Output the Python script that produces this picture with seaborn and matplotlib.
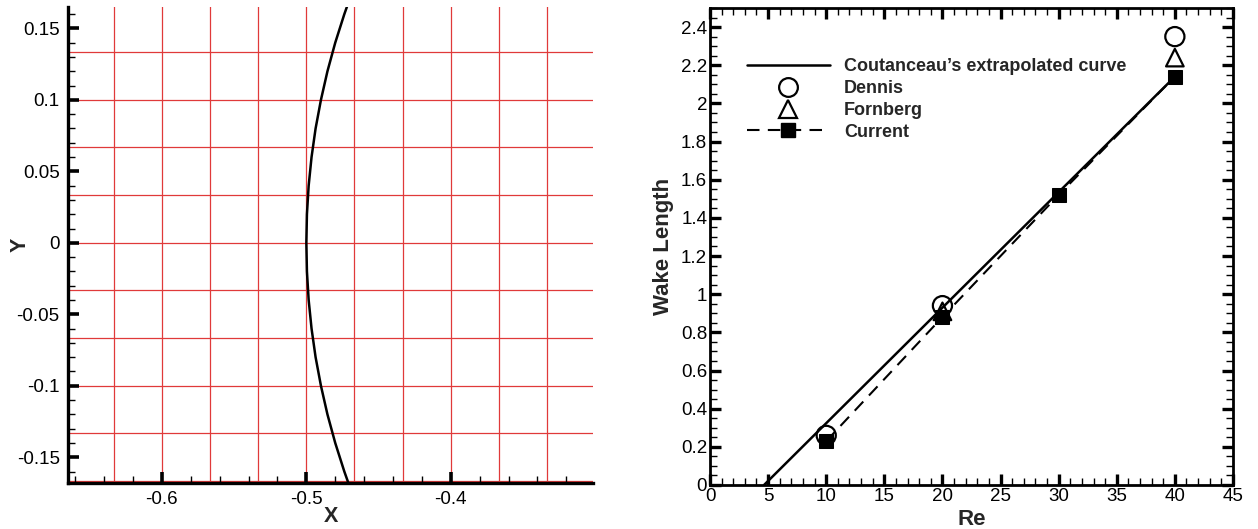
import matplotlib
matplotlib.use("Agg")
import matplotlib.pyplot as plt
from matplotlib.lines import Line2D
from matplotlib.ticker import MultipleLocator, FuncFormatter
import seaborn as sns

# ---- left panel: cylinder surface near the front stagnation point ----
surf_y = [-0.17, -0.16, -0.14, -0.12, -0.10, -0.08, -0.06, -0.04, -0.02, 0.0,
          0.02, 0.04, 0.06, 0.08, 0.10, 0.12, 0.14, 0.16, 0.17]
surf_x = [-0.4702, -0.4737, -0.4800, -0.4854, -0.4899, -0.4936, -0.4964, -0.4984, -0.4996, -0.5000,
          -0.4996, -0.4984, -0.4964, -0.4936, -0.4899, -0.4854, -0.4800, -0.4737, -0.4702]

# background Cartesian mesh lines
mesh_x = [-0.6333, -0.6, -0.5667, -0.5333, -0.5, -0.4667, -0.4333, -0.4, -0.3667, -0.3333]
mesh_y = [-0.1667, -0.1333, -0.1, -0.0667, -0.0333, 0.0, 0.0333, 0.0667, 0.1, 0.1333]

# ---- right panel: recirculation wake length vs Reynolds number ----
cout_re = [4.65, 40.0]
cout_len = [0.0, 2.14]

dennis_re = [10, 20, 40]
dennis_len = [0.26, 0.94, 2.35]

fornberg_re = [20, 40]
fornberg_len = [0.91, 2.24]

current_re = [10, 20, 30, 40]
current_len = [0.23, 0.88, 1.52, 2.14]

legend_labels = ["Coutanceau\u2019s extrapolated curve", "Dennis", "Fornberg", "Current"]

sns.set_style("ticks")
plt.rcParams["font.family"] = ["Liberation Sans", "DejaVu Sans"]
plt.rcParams["axes.unicode_minus"] = False

fig = plt.figure(figsize=(12.58, 5.29), dpi=100)
num_fmt = FuncFormatter(lambda v, p: "0" if abs(v) < 1e-9 else f"{v:g}")

# left axes
axl = fig.add_axes([0.0541, 0.087, 0.4173, 0.8998])
axl.set_axisbelow(False)
axl.vlines(mesh_x, -0.1667, 0.17, colors="#e03a3a", linewidth=0.9, zorder=1)
axl.hlines(mesh_y, -0.665, -0.30, colors="#e03a3a", linewidth=0.9, zorder=1)
sns.lineplot(x=surf_x, y=surf_y, sort=False, estimator=None, color="black",
             linewidth=1.8, ax=axl, zorder=3)
axl.set_xlim(-0.665, -0.3015)
axl.set_ylim(-0.168, 0.165)
axl.xaxis.set_major_locator(MultipleLocator(0.1))
axl.xaxis.set_minor_locator(MultipleLocator(0.02))
axl.yaxis.set_major_locator(MultipleLocator(0.05))
axl.yaxis.set_minor_locator(MultipleLocator(0.01))
axl.xaxis.set_major_formatter(num_fmt)
axl.yaxis.set_major_formatter(num_fmt)
for s in ["top", "right"]:
    axl.spines[s].set_visible(False)
for s in ["left", "bottom"]:
    axl.spines[s].set_linewidth(2.4)
    axl.spines[s].set_color("black")
    axl.spines[s].set_zorder(5)
axl.tick_params(which="major", direction="in", length=8, width=2.6, labelsize=13.5, pad=6,
                colors="black")
axl.tick_params(which="minor", direction="in", length=5, width=1, colors="black")
axl.set_xlabel("X", fontsize=15.5, fontweight="bold")
axl.set_ylabel("Y", fontsize=15.5, fontweight="bold")
axl.xaxis.set_label_coords(0.5, -0.048)
axl.yaxis.set_label_coords(-0.072, 0.5)

# right axes
axr = fig.add_axes([0.5644, 0.0832, 0.4157, 0.9017])
axr.set_axisbelow(False)
sns.lineplot(x=cout_re, y=cout_len, color="black", linewidth=1.8, ax=axr, zorder=2)
sns.lineplot(x=current_re, y=current_len, color="black", linewidth=1.5, ax=axr,
             linestyle=(0, (6, 4)), marker="s", markersize=9.5, markeredgecolor="black",
             markerfacecolor="black", zorder=3)
sns.scatterplot(x=dennis_re, y=dennis_len, marker="o", s=190, facecolor="none",
                edgecolor="black", linewidth=1.6, ax=axr, zorder=4)
sns.scatterplot(x=fornberg_re, y=fornberg_len, marker="^", s=160, facecolor="none",
                edgecolor="black", linewidth=1.6, ax=axr, zorder=4)
axr.set_xlim(0, 45)
axr.set_ylim(0, 2.5)
axr.xaxis.set_major_locator(MultipleLocator(5))
axr.xaxis.set_minor_locator(MultipleLocator(1))
axr.yaxis.set_major_locator(MultipleLocator(0.2))
axr.yaxis.set_minor_locator(MultipleLocator(0.05))
axr.yaxis.set_major_formatter(num_fmt)
for s in axr.spines.values():
    s.set_linewidth(2)
    s.set_color("black")
axr.tick_params(which="major", direction="in", length=8, width=2.4, top=True, right=True,
                labelsize=13.5, pad=2, colors="black")
axr.tick_params(which="minor", direction="in", length=5, width=1, top=True, right=True,
                colors="black")
axr.set_xlabel("Re", fontsize=16, fontweight="bold", labelpad=3)
axr.set_ylabel("Wake Length", fontsize=16, fontweight="bold", labelpad=5)

handles = [
    Line2D([], [], color="black", linewidth=1.8),
    Line2D([], [], linestyle="none", marker="o", markersize=13.5, markerfacecolor="none",
           markeredgecolor="black", markeredgewidth=1.6),
    Line2D([], [], linestyle="none", marker="^", markersize=12.5, markerfacecolor="none",
           markeredgecolor="black", markeredgewidth=1.6),
    Line2D([], [], color="black", linewidth=1.5, linestyle=(0, (6, 4)), marker="s",
           markersize=9.5, markerfacecolor="black"),
]
axr.legend(handles, legend_labels, loc="upper left", bbox_to_anchor=(0.07, 0.895),
           frameon=False, borderpad=0, borderaxespad=0, handlelength=4.6,
           handletextpad=0.8, labelspacing=0.27, numpoints=1,
           prop={"weight": "bold", "size": 13})

fig.savefig("out.png", dpi=100)
